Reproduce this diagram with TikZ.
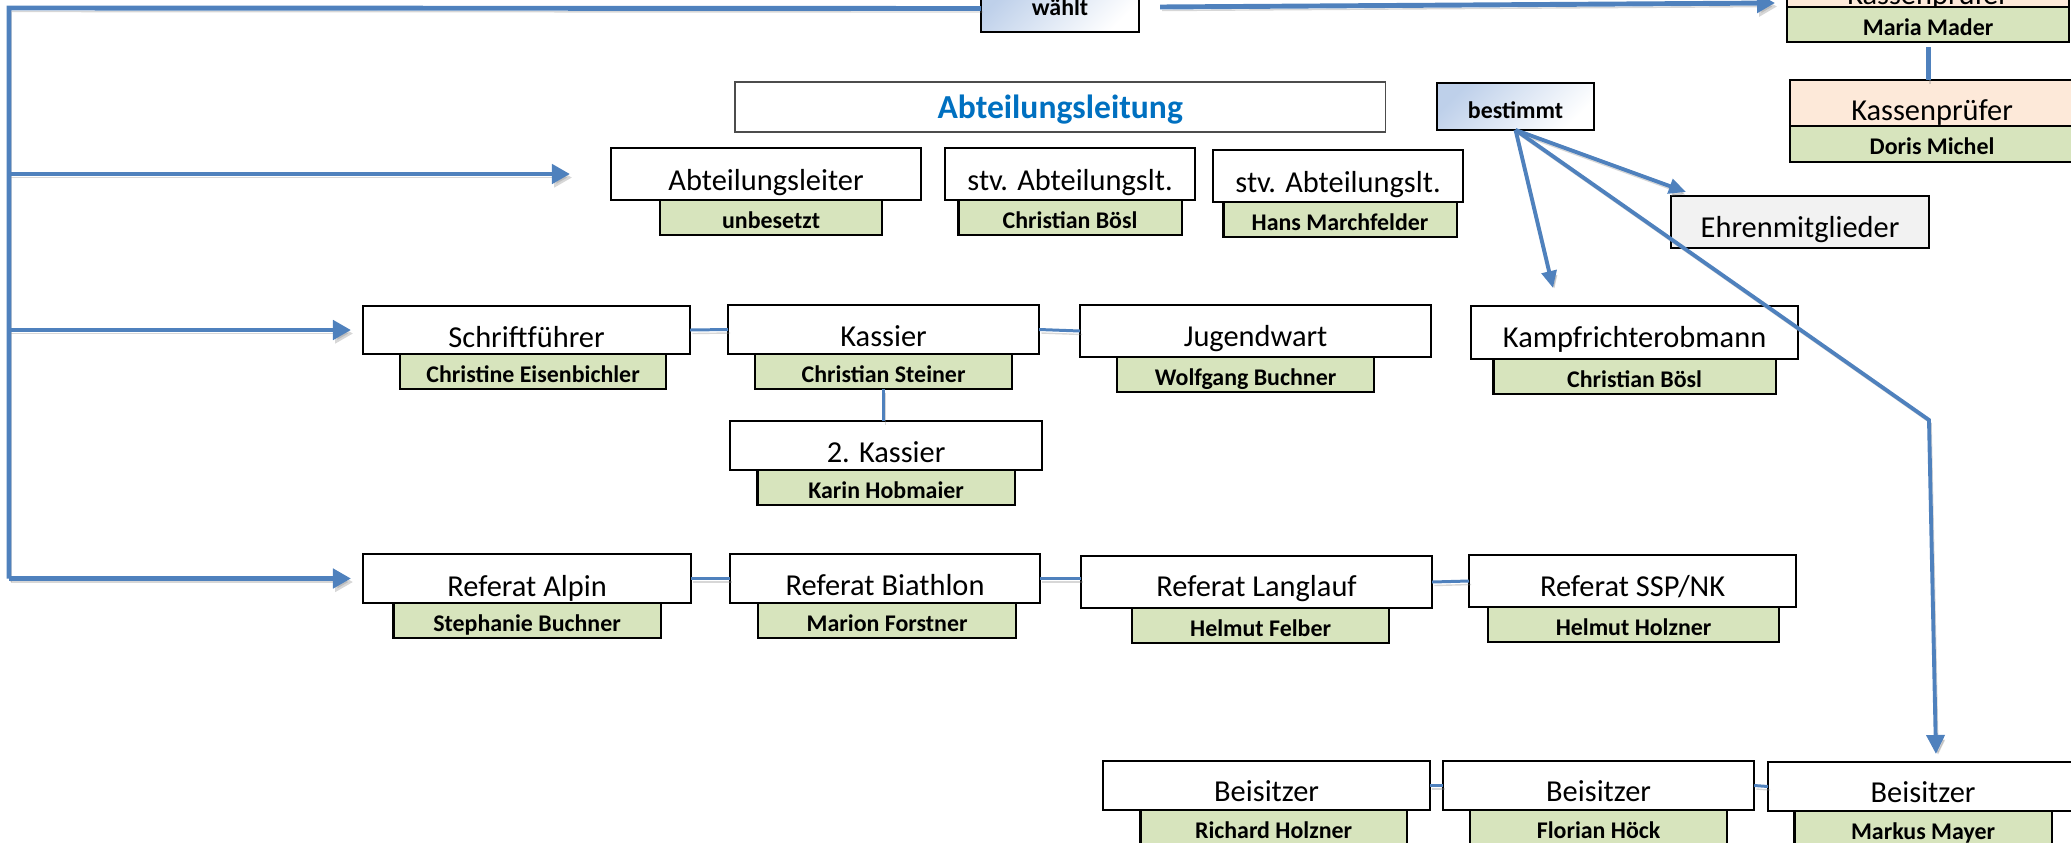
\documentclass[tikz,border=0pt]{standalone}
\usepackage{fontspec}
\setmainfont{Carlito}
\usetikzlibrary{positioning,arrows.meta}
\definecolor{linie}{RGB}{79,129,189}
\definecolor{gruen}{RGB}{215,228,189}
\definecolor{lachs}{RGB}{253,233,217}
\definecolor{hellgrau}{RGB}{242,242,242}
\definecolor{titelblau}{RGB}{0,112,192}
\definecolor{hellblau}{RGB}{190,208,234}
\begin{document}
\begin{tikzpicture}[x=0.01cm, y=-0.01cm,
    amt/.style={draw, line width=0.6pt, fill=white, inner sep=0pt, outer sep=0pt, anchor=north west,
        text height=0.41cm, text depth=0.08cm, font=\fontsize{8.65}{10}\selectfont},
    person/.style={draw, line width=0.6pt, fill=gruen, inner sep=0pt, outer sep=0pt,
        text height=0.28cm, text depth=0.07cm, font=\bfseries\fontsize{6.8}{8}\selectfont},
    knopf/.style={draw, line width=0.6pt, inner sep=0pt, outer sep=0pt, anchor=north west,
        top color=hellblau, middle color=white, bottom color=white, shading angle=45,
        font=\bfseries\fontsize{6.8}{8}\selectfont},
    schatten/.style={preaction={draw=black!45, opacity=0.35, transform canvas={shift={(0.6pt,-1pt)}}}},
    strang/.style={draw=linie, line width=1.4pt, schatten},
    pfeil/.style={strang, -{Triangle[length=0.18cm, width=0.19cm]}},
    pfeilb/.style={draw=linie, line width=1.1pt, schatten, -{Triangle[length=0.17cm, width=0.15cm]}},
    verb/.style={draw=linie, line width=0.85pt, schatten}]
    \useasboundingbox (0,0) rectangle (2071,843) ;
    \clip (0,0) rectangle (2071,843) ;

    \node [knopf, minimum width=1.58cm, text height=0.30cm, text depth=0.17cm] (waehlt) at (981,-15) {wählt} ;
    \node [draw=black!70, line width=0.4pt, inner sep=0pt, outer sep=0pt, anchor=north west, minimum width=6.5cm,
        text height=0.36cm, text depth=0.14cm, font=\bfseries\fontsize{9.55}{11}\selectfont, text=titelblau] (leitung) at (735,82) {Abteilungsleitung} ;
    \node [knopf, minimum width=1.57cm, text height=0.35cm, text depth=0.12cm] (best) at (1437,83) {bestimmt} ;

    \node [amt, fill=lachs, minimum width=2.82cm, text height=0.44cm, text depth=0.03cm] (kp1) at (1787,-40) {Kassenprüfer} ;
    \node [person, minimum width=2.82cm, below=0pt of kp1] (kp1n) {Maria Mader} ;
    \node [amt, fill=lachs, minimum width=2.84cm, text height=0.40cm, text depth=0.06cm] (kp2) at (1790,80) {Kassenprüfer} ;
    \node [person, minimum width=2.84cm, text depth=0.08cm, below=0pt of kp2] (kp2n) {Doris Michel} ;
    \node [amt, fill=hellgrau, minimum width=2.58cm, text depth=0.11cm] (ehren) at (1671,196) {Ehrenmitglieder} ;

    \node [amt, minimum width=3.10cm, text height=0.42cm, text depth=0.10cm] (al) at (611,148) {Abteilungsleiter} ;
    \node [person, minimum width=2.22cm, below=0pt of al, xshift=0.05cm] (aln) {unbesetzt} ;
    \node [amt, minimum width=2.50cm, text height=0.42cm, text depth=0.10cm] (stv1) at (945,148) {stv. Abteilungslt.} ;
    \node [person, minimum width=2.23cm, below=0pt of stv1] (stv1n) {Christian Bösl} ;
    \node [amt, minimum width=2.50cm, text height=0.42cm, text depth=0.10cm] (stv2) at (1213,150) {stv. Abteilungslt.} ;
    \node [person, minimum width=2.33cm, below=0pt of stv2, xshift=0.02cm] (stv2n) {Hans Marchfelder} ;

    \node [amt, minimum width=3.27cm, text depth=0.07cm] (sf) at (363,306) {Schriftführer} ;
    \node [person, minimum width=2.66cm, below=0pt of sf, xshift=0.065cm] (sfn) {Christine Eisenbichler} ;
    \node [amt, minimum width=3.11cm] (ks) at (728,305) {Kassier} ;
    \node [person, minimum width=2.57cm, below=0pt of ks] (ksn) {Christian Steiner} ;
    \node [amt, minimum width=3.51cm, text depth=0.11cm] (jw) at (1080,305) {Jugendwart} ;
    \node [person, minimum width=2.57cm, below=0pt of jw, xshift=-0.10cm] (jwn) {Wolfgang Buchner} ;
    \node [amt, minimum width=3.27cm, text depth=0.12cm] (kr) at (1471,306) {Kampfrichterobmann} ;
    \node [person, minimum width=2.82cm, below=0pt of kr] (krn) {Christian Bösl} ;
    \node [amt, minimum width=3.12cm] (ks2) at (730,421) {2. Kassier} ;
    \node [person, minimum width=2.57cm, below=0pt of ks2] (ks2n) {Karin Hobmaier} ;

    \node [amt, minimum width=3.28cm, text height=0.42cm, text depth=0.07cm] (ra) at (363,554) {Referat Alpin} ;
    \node [person, minimum width=2.67cm, below=0pt of ra] (ran) {Stephanie Buchner} ;
    \node [amt, minimum width=3.10cm] (rb) at (730,554) {Referat Biathlon} ;
    \node [person, minimum width=2.58cm, below=0pt of rb, xshift=0.02cm] (rbn) {Marion Forstner} ;
    \node [amt, minimum width=3.51cm, text height=0.40cm, text depth=0.12cm] (rl) at (1081,556) {Referat Langlauf} ;
    \node [person, minimum width=2.57cm, below=0pt of rl, xshift=0.04cm] (rln) {Helmut Felber} ;
    \node [amt, minimum width=3.27cm, text depth=0.11cm] (rs) at (1469,555) {Referat SSP/NK} ;
    \node [person, minimum width=2.91cm, below=0pt of rs, xshift=0.01cm] (rsn) {Helmut Holzner} ;

    \node [amt, minimum width=3.27cm, text height=0.40cm, text depth=0.09cm] (bs1) at (1103,761) {Beisitzer} ;
    \node [person, minimum width=2.66cm, below=0pt of bs1, xshift=0.07cm] (bs1n) {Richard Holzner} ;
    \node [amt, minimum width=3.11cm, text height=0.40cm, text depth=0.09cm] (bs2) at (1443,761) {Beisitzer} ;
    \node [person, minimum width=2.57cm, below=0pt of bs2] (bs2n) {Florian Höck} ;
    \node [amt, minimum width=3.10cm, text height=0.40cm, text depth=0.09cm] (bs3) at (1768,762) {Beisitzer} ;
    \node [person, minimum width=2.57cm, below=0pt of bs3] (bs3n) {Markus Mayer} ;

    \coordinate (oben) at (9,8) ;
    \coordinate (kpziel) at (1775,3) ;
    \coordinate (ehziel) at (1686,192) ;
    \coordinate (krziel) at (1553,288) ;
    \coordinate (knick) at (1929,420) ;
    \coordinate (bsziel) at (1936,754) ;

    \draw [strang] (waehlt.west) -- (oben) -- (ra.west -| oben) ;
    \draw [pfeil] ([xshift=0.21cm, yshift=0.015cm]waehlt.east) -- (kpziel) ;
    \draw [pfeil, shorten >=0.41cm] (al.west -| oben) -- (al.west) ;
    \draw [pfeil, shorten >=0.12cm] (sf.west -| oben) -- (sf.west) ;
    \draw [pfeil, shorten >=0.12cm] (ra.west -| oben) -- (ra.west) ;
    \draw [strang, shorten <=0.05cm] (kp1n.south) -- (kp1n.south |- kp2.north) ;

    \draw [pfeilb] (best.south) -- (ehziel) ;
    \draw [pfeilb] (best.south) -- (krziel) ;
    \draw [pfeilb, -{Triangle[length=0.19cm, width=0.18cm]}] (best.south) -- (knick) -- (bsziel) ;

    \draw [verb] (sf.east) -- (ks.west) ;
    \draw [verb] (ks.east) -- (jw.west) ;
    \draw [verb] (ksn.south) -- (ksn.south |- ks2.north) ;
    \draw [verb] (ra.east) -- (rb.west) ;
    \draw [verb] (rb.east) -- (rb.east -| rl.west) ;
    \draw [verb] (rl.east) -- (rs.west) ;
    \draw [verb] (bs1.east) -- (bs2.west) ;
    \draw [verb] (bs2.east) -- (bs3.west) ;
\end{tikzpicture}
\end{document}
